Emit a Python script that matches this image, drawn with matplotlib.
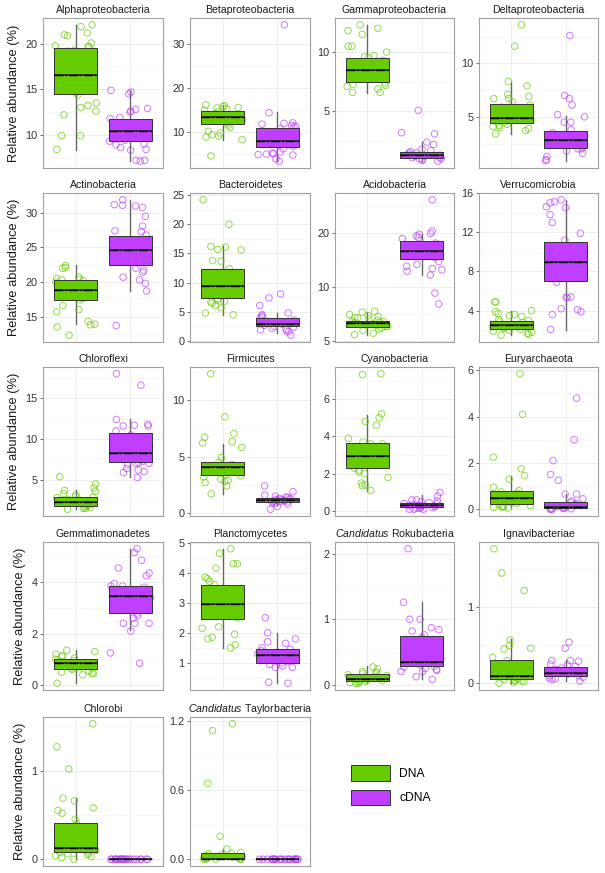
import numpy as np
import matplotlib.pyplot as plt
from matplotlib.patches import Patch

plt.rcParams["font.family"] = ["Liberation Sans", "DejaVu Sans"]
plt.rcParams["mathtext.fontset"] = "custom"
plt.rcParams["mathtext.it"] = "Liberation Sans:italic"
plt.rcParams["mathtext.rm"] = "Liberation Sans"

# ---- data (relative abundance, %) ----
taxa = [
    "Alphaproteobacteria", "Betaproteobacteria", "Gammaproteobacteria", "Deltaproteobacteria",
    "Actinobacteria", "Bacteroidetes", "Acidobacteria", "Verrucomicrobia",
    "Chloroflexi", "Firmicutes", "Cyanobacteria", "Euryarchaeota",
    "Gemmatimonadetes", "Planctomycetes", r"$\it{Candidatus}$ Rokubacteria", "Ignavibacteriae",
    "Chlorobi", r"$\it{Candidatus}$ Taylorbacteria",
]

# box statistics: (low whisker, q1, median, q3, high whisker)
dna_box = [
    (8.35, 14.5, 16.6, 19.56, 22.1), (8.25, 11.8, 13.4, 14.7, 16.2),
    (6.56, 7.5, 8.46, 9.52, 12.3), (3.35, 4.44, 4.88, 6.16, 8.28),
    (13.9, 17.4, 18.9, 20.25, 22.4), (4.5, 7.3, 9.4, 12.4, 16.2),
    (5.36, 5.97, 6.27, 6.47, 7.23), (1.5, 2.1, 2.54, 2.98, 4.0),
    (1.4, 1.83, 2.33, 2.86, 3.8), (1.7, 3.4, 4.05, 4.56, 6.1),
    (1.1, 2.3, 2.93, 3.64, 5.13), (0.04, 0.23, 0.47, 0.78, 1.43),
    (0.1, 0.61, 0.84, 1.03, 1.38), (1.5, 2.45, 2.97, 3.6, 4.79),
    (0.02, 0.05, 0.08, 0.16, 0.28), (0.0, 0.05, 0.095, 0.3, 0.58),
    (0.0, 0.085, 0.13, 0.41, 0.69), (0.0, 0.0, 0.006, 0.05, 0.09),
]
cdna_box = [
    (7.13, 9.34, 10.44, 11.76, 14.9), (3.5, 6.6, 8.0, 11.0, 14.5),
    (0.8, 1.06, 1.28, 1.61, 2.4), (0.85, 2.1, 2.79, 3.66, 5.1),
    (18.75, 22.4, 24.7, 26.6, 31.9), (1.4, 2.5, 3.0, 3.9, 4.8),
    (11.6, 14.2, 15.9, 17.9, 19.7), (2.05, 7.05, 9.0, 11.03, 15.3),
    (5.3, 7.17, 8.3, 10.75, 12.4), (0.73, 0.97, 1.14, 1.32, 1.55),
    (0.1, 0.21, 0.35, 0.46, 0.85), (0.0, 0.04, 0.11, 0.33, 0.64),
    (2.13, 2.81, 3.47, 3.85, 5.3), (0.32, 1.0, 1.27, 1.47, 2.0),
    (0.08, 0.28, 0.35, 0.74, 1.26), (0.03, 0.095, 0.13, 0.22, 0.3),
    (0.0, 0.0, 0.0, 0.0, 0.0), (0.0, 0.0, 0.0, 0.0, 0.0),
]

dna_pts = [
    [21.9, 22.1, 21.2, 21.0, 20.9, 20.1, 19.8, 19.7, 19.7, 19.3, 19.2, 17.1, 16.0, 15.6,
     14.6, 14.4, 13.5, 13.2, 13.0, 12.6, 12.2, 9.9, 9.9, 8.4],
    [16.2, 16.0, 15.8, 15.6, 15.5, 15.3, 15.0, 14.6, 14.2, 13.8, 13.5, 13.2, 12.9, 12.5,
     12.0, 11.6, 11.0, 10.2, 9.8, 9.4, 9.1, 8.9, 8.3, 4.6],
    [12.3, 12.0, 11.8, 11.5, 10.5, 10.5, 10.0, 9.7, 9.6, 9.5, 9.3, 9.1, 8.8, 8.5, 8.2,
     7.9, 7.7, 7.4, 7.3, 7.2, 7.1, 6.9, 6.6, 6.6],
    [13.6, 11.6, 8.3, 7.9, 7.1, 6.9, 6.7, 6.7, 6.4, 6.1, 5.9, 5.6, 5.3, 5.0, 4.9, 4.7,
     4.5, 4.3, 4.2, 4.1, 4.0, 3.9, 3.7, 3.4],
    [22.4, 22.1, 22.0, 20.7, 20.5, 20.4, 20.3, 20.2, 20.0, 19.5, 19.0, 18.5, 18.0, 17.6,
     17.4, 16.6, 16.0, 15.7, 14.3, 13.9, 13.8, 13.5, 12.3],
    [24.2, 20.0, 16.2, 16.1, 15.6, 15.7, 13.8, 13.7, 12.4, 11.0, 10.0, 9.4, 8.8, 8.0,
     7.3, 7.0, 6.8, 6.7, 6.5, 6.1, 5.7, 4.8, 4.5],
    [7.3, 7.2, 7.0, 6.9, 6.8, 6.7, 6.7, 6.6, 6.5, 6.4, 6.4, 6.3, 6.3, 6.2, 6.1, 6.0,
     6.0, 5.9, 5.8, 5.7, 5.5, 5.4],
    [4.9, 4.9, 4.0, 3.9, 3.7, 3.6, 3.5, 3.4, 3.1, 3.0, 2.9, 2.8, 2.6, 2.5, 2.4, 2.3,
     2.2, 2.1, 2.0, 1.9, 1.8, 1.7, 1.6, 1.5],
    [5.4, 4.5, 4.0, 3.7, 3.6, 3.3, 3.2, 3.0, 2.9, 2.8, 2.6, 2.5, 2.4, 2.3, 2.2, 2.1,
     2.0, 1.9, 1.8, 1.7, 1.6, 1.5, 1.5, 1.4],
    [12.3, 8.5, 7.0, 6.7, 6.3, 6.2, 5.8, 4.9, 4.5, 4.3, 4.1, 3.9, 3.8, 3.6, 3.4, 3.3,
     3.2, 3.0, 2.9, 2.8, 2.7, 2.4, 1.7],
    [7.35, 7.3, 5.2, 5.0, 4.8, 4.6, 3.9, 3.7, 3.6, 3.6, 3.4, 3.1, 2.9, 2.7, 2.5, 2.3,
     2.2, 2.1, 2.0, 1.8, 1.5, 1.4, 1.35, 1.1],
    [5.85, 4.1, 2.25, 1.75, 1.45, 1.3, 0.95, 0.8, 0.75, 0.7, 0.6, 0.5, 0.45, 0.4, 0.3,
     0.25, 0.2, 0.15, 0.12, 0.1, 0.1, 0.08, 0.05],
    [1.35, 1.3, 1.2, 1.15, 1.1, 1.05, 1.0, 0.95, 0.9, 0.85, 0.8, 0.75, 0.7, 0.65, 0.6,
     0.55, 0.5, 0.45, 0.45, 0.4, 0.07],
    [4.8, 4.65, 4.3, 4.3, 4.15, 3.85, 3.8, 3.72, 3.6, 3.3, 3.1, 2.9, 2.7, 2.6, 2.5, 2.2,
     2.15, 1.95, 1.85, 1.8, 1.6, 1.5],
    [0.27, 0.24, 0.2, 0.19, 0.18, 0.17, 0.15, 0.14, 0.12, 0.1, 0.1, 0.08, 0.07, 0.06,
     0.05, 0.05, 0.04, 0.03, 0.02, 0.02],
    [1.77, 1.45, 1.22, 0.57, 0.5, 0.46, 0.45, 0.34, 0.3, 0.25, 0.2, 0.15, 0.1, 0.08,
     0.06, 0.05, 0.04, 0.03, 0.03, 0.02, 0.01, 0.0],
    [1.53, 1.27, 1.02, 0.69, 0.66, 0.58, 0.55, 0.52, 0.45, 0.4, 0.3, 0.2, 0.15, 0.12,
     0.1, 0.1, 0.08, 0.07, 0.06, 0.05, 0.04, 0.03, 0.02, 0.0],
    [1.18, 1.12, 0.66, 0.2, 0.09, 0.06, 0.05, 0.05, 0.04, 0.03, 0.02, 0.02, 0.01, 0.01,
     0.01, 0.0, 0.0, 0.0, 0.0, 0.0],
]
cdna_pts = [
    [14.9, 14.7, 14.5, 12.9, 12.8, 12.6, 12.5, 11.9, 11.8, 11.0, 10.5, 10.0, 9.4, 9.3,
     9.0, 8.9, 8.6, 8.4, 8.3, 7.2, 7.2, 7.1],
    [34.4, 14.4, 12.1, 12.0, 11.8, 11.5, 11.4, 11.2, 10.8, 10.2, 9.5, 8.8, 8.0, 7.3,
     6.8, 6.2, 5.5, 5.2, 5.2, 5.0, 4.9, 4.8, 3.9, 3.4],
    [5.1, 3.1, 3.2, 2.4, 2.2, 1.8, 1.7, 1.6, 1.5, 1.5, 1.4, 1.3, 1.3, 1.2, 1.2, 1.1,
     1.1, 1.0, 1.0, 0.9, 0.9, 0.8],
    [12.6, 7.0, 6.7, 6.1, 5.2, 5.0, 4.5, 4.5, 3.8, 3.5, 3.3, 3.2, 3.0, 2.8, 2.5, 2.3,
     2.1, 2.0, 2.0, 1.8, 1.6, 1.3, 1.0, 0.9],
    [31.9, 31.2, 31.0, 30.8, 31.1, 29.5, 28.1, 27.4, 27.3, 26.8, 26.0, 25.2, 24.5, 24.2,
     23.5, 22.8, 22.0, 21.7, 21.4, 20.7, 20.3, 19.8, 18.7, 13.7],
    [8.1, 7.4, 6.1, 4.8, 4.5, 4.3, 4.1, 3.9, 3.6, 3.4, 3.2, 3.0, 2.9, 2.7, 2.5, 2.3,
     2.2, 2.0, 1.9, 1.7, 1.6, 1.0],
    [30.5, 20.4, 19.8, 19.6, 19.2, 18.8, 18.5, 17.5, 17.0, 16.6, 16.0, 15.5, 15.0, 14.5,
     13.8, 13.3, 13.0, 12.6, 12.4, 12.2, 11.6, 9.2, 8.0],
    [15.3, 15.1, 15.0, 14.6, 14.5, 13.8, 13.0, 11.9, 11.2, 10.5, 9.5, 8.5, 7.5, 6.9,
     5.4, 5.4, 5.3, 4.2, 4.1, 3.9, 3.6, 2.1],
    [18.0, 16.6, 12.4, 11.8, 11.7, 11.6, 11.6, 11.0, 10.5, 9.8, 9.0, 8.7, 8.2, 7.6, 7.3,
     7.1, 7.0, 7.0, 6.9, 6.4, 6.2, 6.0, 5.9, 5.3],
    [2.4, 1.9, 1.6, 1.5, 1.4, 1.4, 1.3, 1.3, 1.2, 1.2, 1.2, 1.1, 1.1, 1.1, 1.0, 1.0,
     1.0, 0.9, 0.9, 0.8, 0.6, 0.35],
    [1.0, 0.8, 0.6, 0.6, 0.55, 0.5, 0.45, 0.4, 0.4, 0.35, 0.3, 0.3, 0.3, 0.25, 0.25,
     0.2, 0.2, 0.15, 0.15, 0.1, 0.1, 0.1],
    [4.8, 3.0, 2.1, 1.5, 1.25, 0.65, 0.65, 0.45, 0.35, 0.3, 0.25, 0.2, 0.15, 0.1, 0.08,
     0.05, 0.05, 0.03, 0.02, 0.0, 0.0, 0.0],
    [5.3, 5.15, 4.85, 4.55, 4.35, 4.25, 3.95, 3.85, 3.85, 3.8, 3.45, 3.4, 3.0, 2.8, 2.7,
     2.6, 2.4, 2.4, 2.4, 2.1, 1.25, 0.85],
    [2.5, 2.0, 1.8, 1.7, 1.65, 1.5, 1.45, 1.4, 1.35, 1.3, 1.25, 1.2, 1.15, 1.1, 1.05,
     1.0, 0.95, 0.9, 0.85, 0.85, 0.35, 0.32],
    [2.08, 1.26, 1.0, 1.0, 0.87, 0.84, 0.82, 0.76, 0.72, 0.5, 0.4, 0.35, 0.3, 0.28,
     0.27, 0.25, 0.23, 0.22, 0.2, 0.2, 0.12, 0.08],
    [0.54, 0.46, 0.3, 0.3, 0.29, 0.25, 0.24, 0.22, 0.2, 0.18, 0.16, 0.14, 0.13, 0.12,
     0.1, 0.1, 0.08, 0.07, 0.06, 0.05, 0.03],
    [0.0] * 22,
    [0.0] * 22,
]

y_ticks = [
    [10, 15, 20], [10, 20, 30], [5, 10], [5, 10],
    [15, 20, 25, 30], [0, 5, 10, 15, 20, 25], [5, 10, 20], [4, 8, 12, 16],
    [5, 10, 15], [0, 5, 10], [0, 2, 4, 6], [0, 2, 4, 6],
    [0, 2, 4], [1, 2, 3, 4, 5], [0, 1, 2], [0, 1],
    [0, 1], [0.0, 0.6, 1.2],
]
log_panels = {"Acidobacteria"}
groups = ["DNA", "cDNA"]

# ---- style ----
GREEN = "#66CC00"
PURPLE = "#BF3EFF"
EDGE = "#333333"

W, H = 605, 873
fig = plt.figure(figsize=(W / 100, H / 100), dpi=100)

col_px = [(43, 163), (190, 310), (335, 454), (479, 598)]
row_px = [(18, 168), (193, 342), (367, 516), (542, 690), (717, 866)]

rng = np.random.default_rng(7)

for i, name in enumerate(taxa):
    r, c = divmod(i, 4)
    x0, x1 = col_px[c]
    y0, y1 = row_px[r]
    ax = fig.add_axes([x0 / W, 1 - y1 / H, (x1 - x0) / W, (y1 - y0) / H])
    is_log = name in log_panels
    if is_log:
        ax.set_yscale("log")

    # jittered points (drawn first, boxes on top)
    for k, (pts, col) in enumerate(zip([dna_pts[i], cdna_pts[i]], [GREEN, PURPLE])):
        pts = np.asarray(pts)
        xs = k + 1 + rng.uniform(-0.38, 0.38, len(pts))
        ax.scatter(xs, pts, s=22, facecolors="none", edgecolors=col, linewidths=0.7,
                   alpha=0.7, zorder=2)

    stats = []
    for k, b in enumerate([dna_box[i], cdna_box[i]]):
        stats.append(dict(whislo=b[0], q1=b[1], med=b[2], q3=b[3], whishi=b[4],
                          fliers=[], label=groups[k]))
    bp = ax.bxp(stats, positions=[1, 2], widths=0.78, patch_artist=True,
                showfliers=False, showcaps=False,
                boxprops=dict(edgecolor=EDGE, linewidth=0.7),
                whiskerprops=dict(color="#666666", linewidth=1.0),
                medianprops=dict(color="#333333", linewidth=1.3), manage_ticks=False)
    for patch, col in zip(bp["boxes"], [GREEN, PURPLE]):
        patch.set_facecolor(col)
        patch.set_zorder(3)
    for ln in bp["whiskers"]:
        ln.set_zorder(1.5)
    for ln in bp["medians"]:
        ln.set_zorder(4)
    meds = [s["med"] for s in stats]
    ax.hlines(meds, [0.61, 1.61], [1.39, 2.39], colors="black", linestyles="-.",
              linewidth=1.0, zorder=5)

    # y range like ggplot: data range + 5%
    allv = np.concatenate([dna_pts[i], cdna_pts[i],
                           [b for b in dna_box[i]], [b for b in cdna_box[i]]])
    if is_log:
        lo, hi = np.log10(allv.min()), np.log10(allv.max())
        pad = (hi - lo) * 0.05
        ax.set_ylim(10 ** (lo - pad), 10 ** (hi + pad))
        t = np.log10(y_ticks[i])
        minors = 10 ** ((t[:-1] + t[1:]) / 2)
        minors = np.concatenate([[10 ** (t[0] - (t[1] - t[0]) / 2)], minors,
                                 [10 ** (t[-1] + (t[-1] - t[-2]) / 2)]])
    else:
        lo, hi = allv.min(), allv.max()
        pad = (hi - lo) * 0.05
        ax.set_ylim(lo - pad, hi + pad)
        t = np.asarray(y_ticks[i], dtype=float)
        step = t[1] - t[0]
        minors = np.arange(t[0] - step / 2, t[-1] + step, step)
    ax.set_yticks(y_ticks[i])
    if name.endswith("Taylorbacteria"):
        ax.set_yticklabels([f"{v:.1f}" for v in y_ticks[i]])
    else:
        ax.set_yticklabels([f"{v:g}" for v in y_ticks[i]])
    ax.yaxis.set_minor_locator(plt.FixedLocator(minors))
    ax.yaxis.set_minor_formatter(plt.NullFormatter())
    ax.tick_params(axis="y", which="minor", length=0)
    ax.tick_params(axis="y", which="major", length=2.5, width=0.6, color="#555555",
                   labelsize=7.8, labelcolor="#333333", pad=1.5)
    ax.set_xlim(0.4, 2.6)
    ax.set_xticks([1, 2])
    ax.tick_params(axis="x", length=0, labelbottom=False)
    ax.grid(True, which="major", color="#EBEBEB", linewidth=0.6, zorder=0)
    ax.grid(True, which="minor", axis="y", color="#F3F3F3", linewidth=0.5, zorder=0)
    ax.set_axisbelow(True)
    for sp in ax.spines.values():
        sp.set_color("#A0A0A0")
        sp.set_linewidth(0.8)
    ax.set_title(name, fontsize=7.6, color="#1a1a1a", pad=3.5)
    if c == 0:
        ax.set_ylabel("Relative abundance (%)", fontsize=9.3, color="#1a1a1a", labelpad=4)

handles = [Patch(facecolor=GREEN, edgecolor=EDGE, linewidth=0.7, label="DNA"),
           Patch(facecolor=PURPLE, edgecolor=EDGE, linewidth=0.7, label="cDNA")]
fig.legend(handles=handles, loc="upper left", bbox_to_anchor=(351 / W, 1 - 765 / H),
           frameon=False, fontsize=8.7, handlelength=3.2, handleheight=1.6,
           labelspacing=0.75, handletextpad=0.8, borderpad=0, borderaxespad=0)

fig.savefig("out.png", dpi=100)
